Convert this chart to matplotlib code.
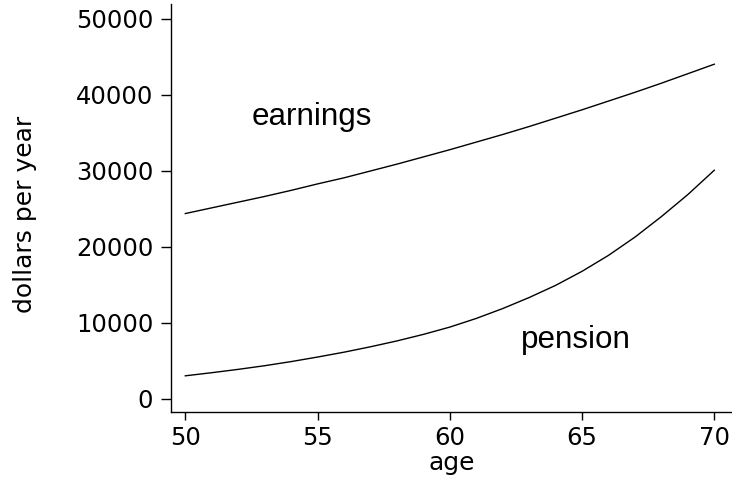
import matplotlib
matplotlib.use("Agg")
import matplotlib.pyplot as plt

# ---- data ----
age = [50, 51, 52, 53, 54, 55, 56, 57, 58, 59, 60,
       61, 62, 63, 64, 65, 66, 67, 68, 69, 70]
earnings = [24400, 25150, 25900, 26650, 27450, 28300, 29100, 30000, 30900, 31850, 32800,
            33800, 34800, 35850, 36950, 38050, 39200, 40350, 41550, 42800, 44050]
pension = [3050, 3460, 3900, 4380, 4920, 5520, 6160, 6870, 7640, 8500, 9460,
           10600, 11900, 13350, 14950, 16800, 18900, 21300, 24000, 26900, 30100]
x_ticks = [50, 55, 60, 65, 70]
y_ticks = [0, 10000, 20000, 30000, 40000, 50000]
labels = {"earnings": (52.5, 36100), "pension": (62.68, 6750)}
x_title = "age"
y_title = "dollars per year"

W, H = 732, 478
fig = plt.figure(figsize=(W / 100, H / 100), dpi=100)
left, right, top, bottom = 171.3, 731.5, 4.0, 412.3
ax = fig.add_axes([left / W, 1 - bottom / H, (right - left) / W, (bottom - top) / H])

ax.plot(age, earnings, color="black", lw=1.0)
ax.plot(age, pension, color="black", lw=1.0)

ax.set_xlim(49.47, 70.65)
ax.set_ylim(-1750, 51970)
ax.set_xticks(x_ticks)
ax.set_yticks(y_ticks)

tick_font = dict(family="DejaVu Sans", size=17.5)
ax.set_xticklabels([str(v) for v in x_ticks], **tick_font)
ax.set_yticklabels([str(v) for v in y_ticks], **tick_font)
ax.tick_params(axis="x", length=6, width=1.0, pad=3.6, direction="out")
ax.tick_params(axis="y", length=7, width=1.0, pad=6.0, direction="out")

for s in ["top", "right"]:
    ax.spines[s].set_visible(False)
for s in ["left", "bottom"]:
    ax.spines[s].set_linewidth(1.0)

ax.set_xlabel(x_title, family="DejaVu Sans", size=18, va="baseline")
ax.xaxis.set_label_coords(0.5, (bottom - 470) / (bottom - top))
ax.set_ylabel(y_title, family="DejaVu Sans", size=18)
ax.yaxis.set_label_coords((37.5 - left) / (right - left), (bottom - 214) / (bottom - top))

for name, (xx, yy) in labels.items():
    ax.text(xx, yy, name, family="Liberation Sans", size=22.6, ha="left", va="baseline")

fig.savefig("out.png", dpi=100)
